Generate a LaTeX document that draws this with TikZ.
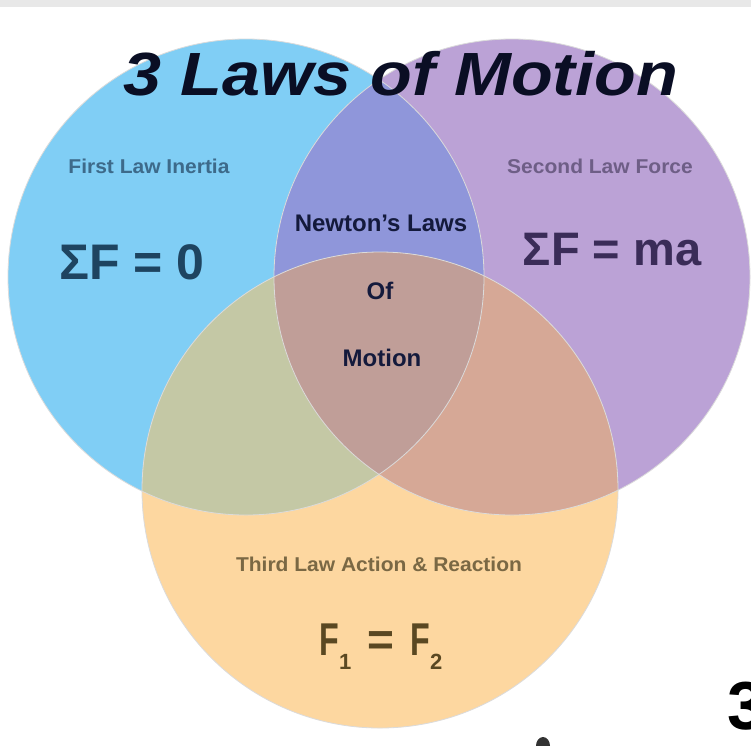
\documentclass[tikz,border=0pt]{standalone}
\usepackage{fontspec}
\setmainfont{Liberation Sans}
\definecolor{cB}{HTML}{80CEF5}
\definecolor{cP}{HTML}{BBA2D6}
\definecolor{cO}{HTML}{FDD7A0}
\definecolor{cBP}{HTML}{8F96DA}
\definecolor{cBO}{HTML}{C4C8A5}
\definecolor{cPO}{HTML}{D6A896}
\definecolor{cBPO}{HTML}{C09E98}
\definecolor{tB}{HTML}{3D6A8A}
\definecolor{tBe}{HTML}{1E4460}
\definecolor{tP}{HTML}{6E5E86}
\definecolor{tPe}{HTML}{3A2C58}
\definecolor{tO}{HTML}{7A6844}
\definecolor{tOe}{HTML}{5A4822}
\definecolor{tN}{HTML}{141A3C}
\definecolor{tTitle}{HTML}{0A0E24}
\begin{document}
\begin{tikzpicture}[x=1pt,y=-1pt,
  lawlabel/.style={inner sep=0pt,font=\bfseries\fontsize{20}{20}\selectfont},
  eqlabel/.style={inner sep=0pt,font=\fontsize{50}{50}\selectfont},
  centerlabel/.style={inner sep=0pt,text=tN,font=\bfseries\fontsize{24}{24}\selectfont},
  rim/.style={draw=black!14,line width=0.8pt}]
\useasboundingbox (0,0) rectangle (751,745);
\fill[white] (0,0) rectangle (751,745);
\fill[black!9] (0,0) rectangle (751,7);
\coordinate (cb) at (246,277);
\coordinate (cp) at (512,277);
\coordinate (co) at (380,490);
\def\R{238pt}
% single circles
\fill[cB] (cb) circle[radius=\R];
\fill[cP] (cp) circle[radius=\R];
\fill[cO] (co) circle[radius=\R];
% pairwise overlaps
\begin{scope}
  \clip (cb) circle[radius=\R];
  \fill[cBP] (cp) circle[radius=\R];
  \fill[cBO] (co) circle[radius=\R];
\end{scope}
\begin{scope}
  \clip (cp) circle[radius=\R];
  \fill[cPO] (co) circle[radius=\R];
\end{scope}
\begin{scope}
  \clip (cb) circle[radius=\R];
  \clip (cp) circle[radius=\R];
  \fill[cBPO] (co) circle[radius=\R];
\end{scope}
\draw[rim] (cb) circle[radius=\R];
\draw[rim] (cp) circle[radius=\R];
\draw[rim] (co) circle[radius=\R];
% title
\node[inner sep=0pt,text=tTitle,font=\bfseries\itshape\fontsize{61}{61}\selectfont] (title) at (401,74) {\scalebox{1.12}[1]{3 Laws of Motion}};
% first law
\node[lawlabel,text=tB] (first) at (149,166) {\scalebox{1.05}[1]{First Law Inertia}};
\node[eqlabel,text=tBe,font=\bfseries\fontsize{50}{50}\selectfont] (firsteq) at (132,262) {ΣF = 0};
% second law
\node[lawlabel,text=tP] (second) at (600,166) {\scalebox{1.05}[1]{Second Law Force}};
\node[eqlabel,text=tPe,font=\bfseries\fontsize{47}{47}\selectfont] (secondeq) at (612,250) {ΣF = ma};
% center
\node[centerlabel] (newton) at (381,223) {Newton's Laws};
\node[centerlabel] (of) at (380,291) {Of};
\node[centerlabel] (motion) at (382,358) {Motion};
% third law
\node[lawlabel,text=tO] (third) at (379,564) {\scalebox{1.05}[1]{Third Law Action \& Reaction}};
\node[inner sep=0pt,text=tOe,font=\bfseries\fontsize{46}{46}\selectfont,anchor=base] (thirdeq) at (381,655)
  {\scalebox{0.7}[1]{F}\raisebox{-0.32em}{\fontsize{22}{22}\selectfont 1}\hspace{0.35em}=\hspace{0.35em}\scalebox{0.7}[1]{F}\raisebox{-0.32em}{\fontsize{22}{22}\selectfont 2}};
% cut-off text at the right edge, as in the reference
\node[inner sep=0pt,anchor=base west,text=black,font=\bfseries\fontsize{68}{68}\selectfont] (cut3) at (727,729) {3};
% dark bump at the bottom edge
\fill[black!80] (536,746) arc[start angle=180,end angle=0,x radius=7pt,y radius=9pt] -- cycle;
\end{tikzpicture}
\end{document}
